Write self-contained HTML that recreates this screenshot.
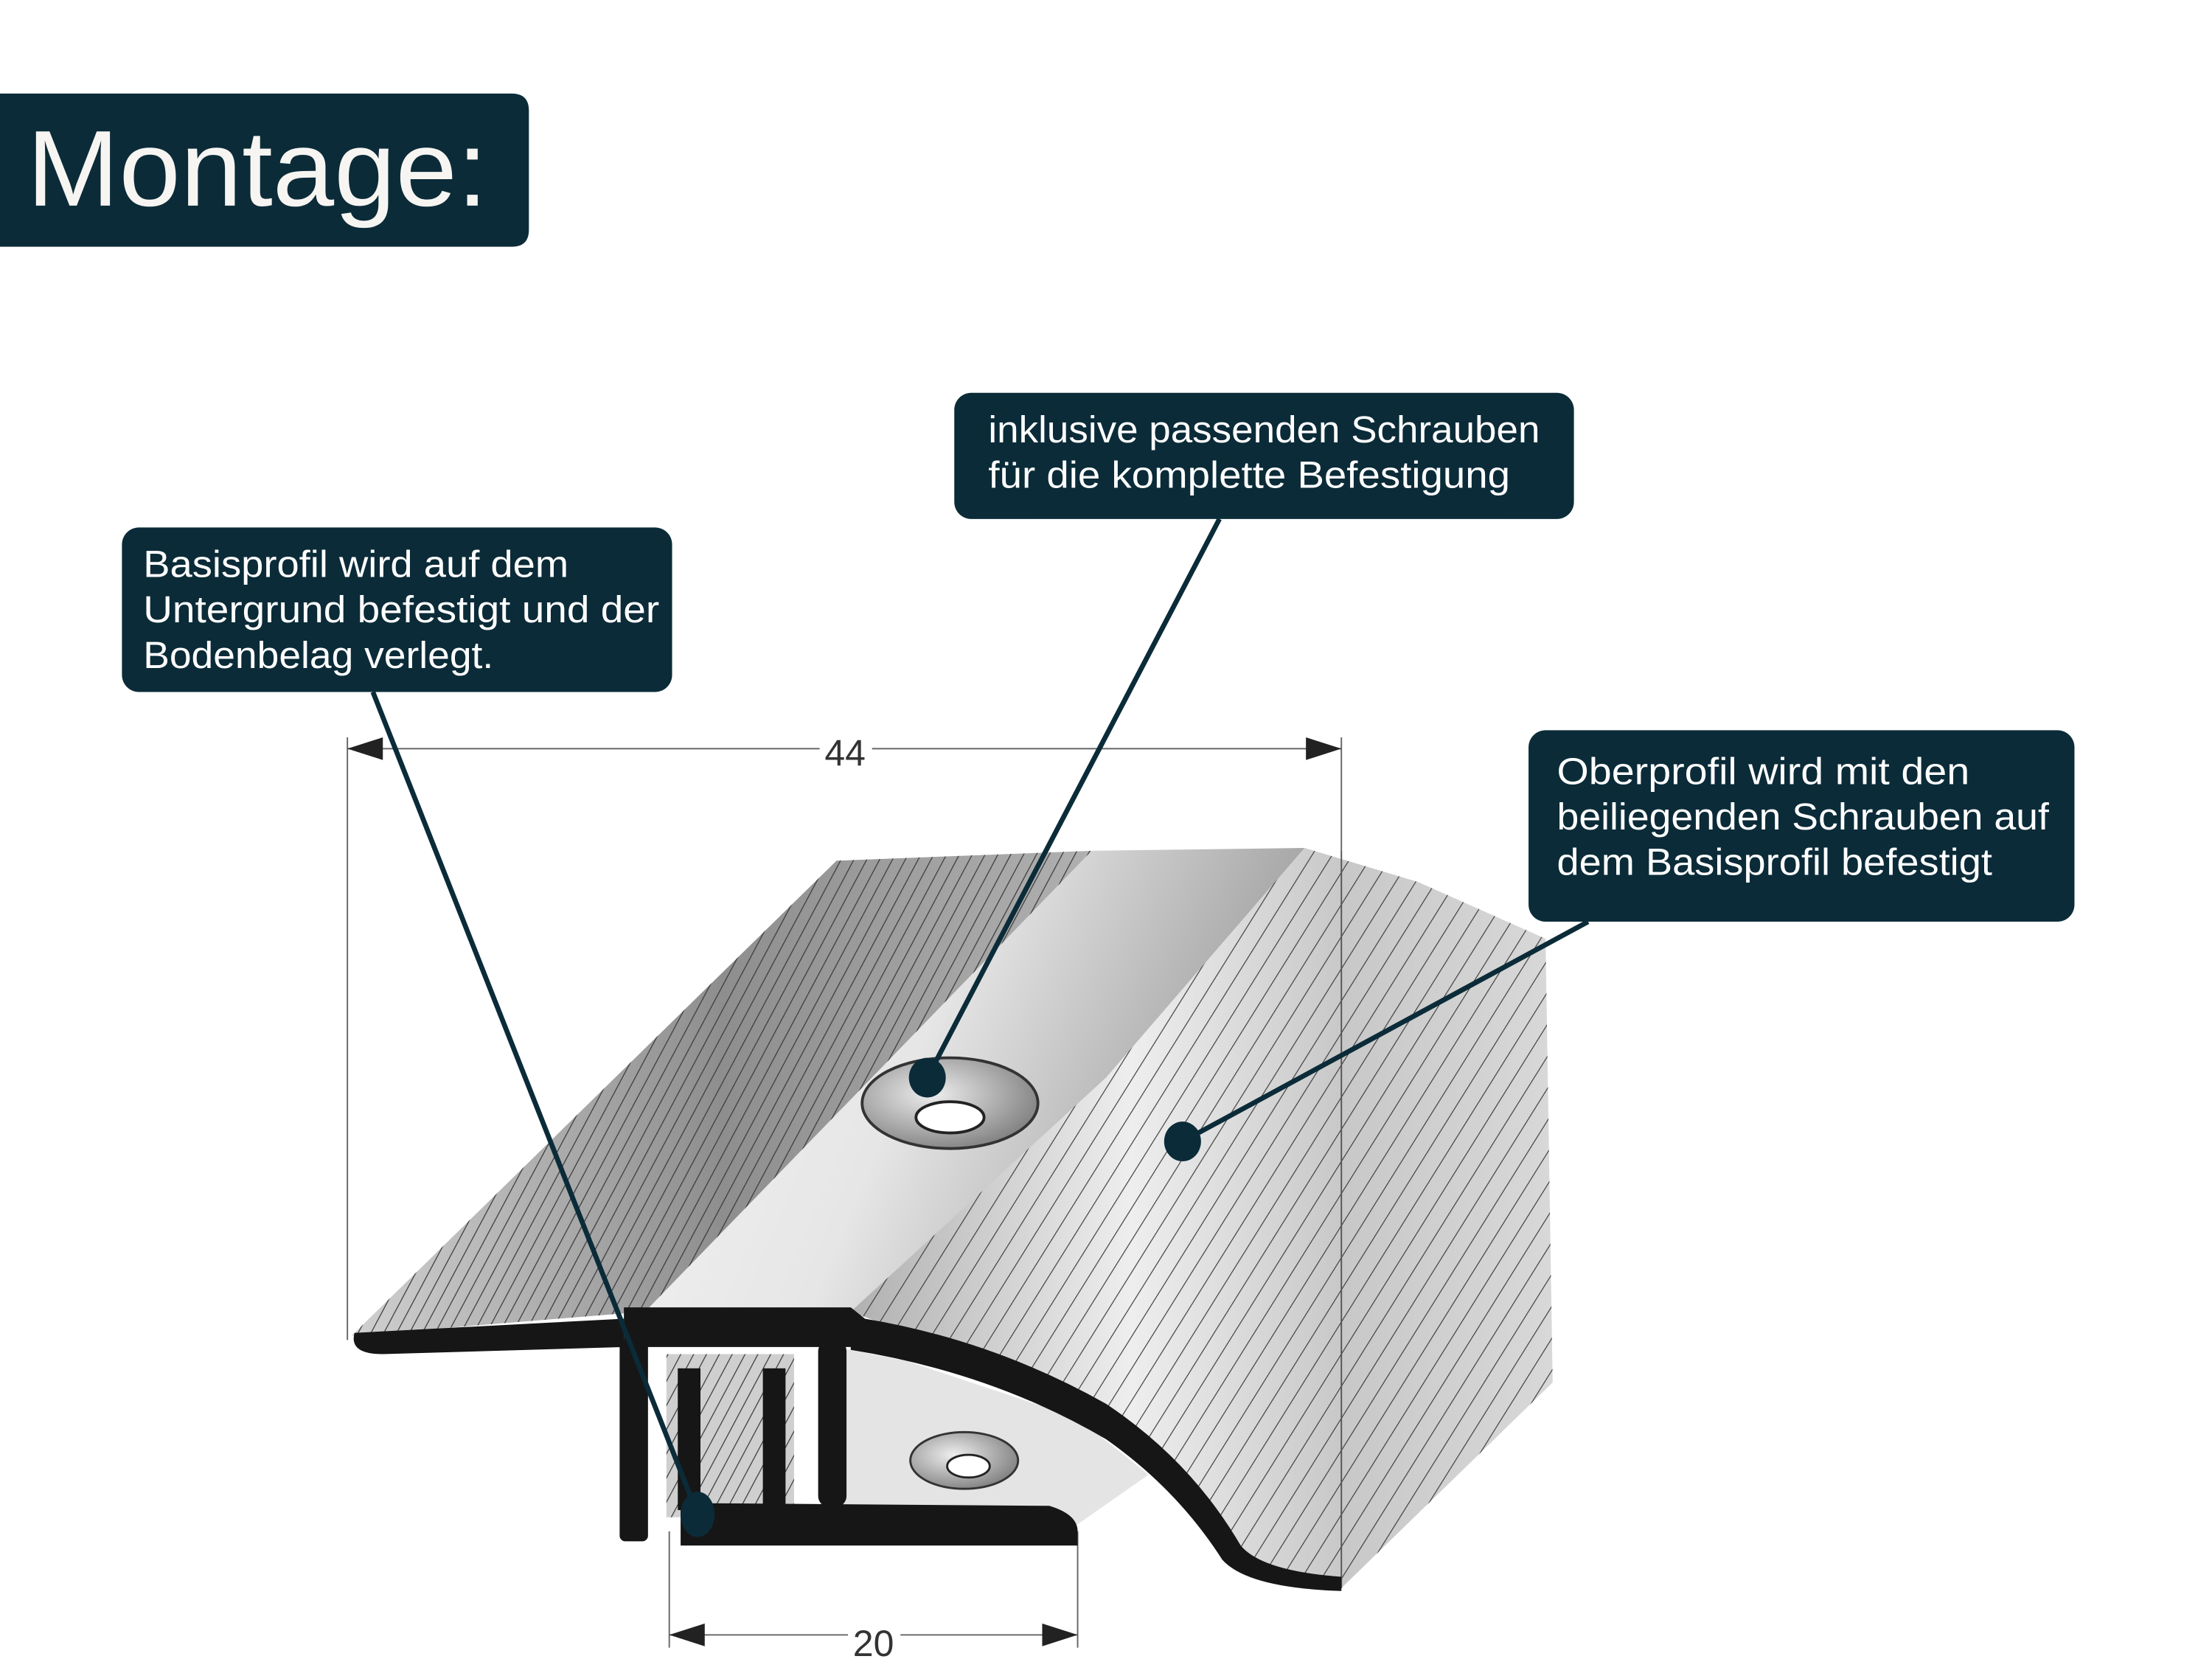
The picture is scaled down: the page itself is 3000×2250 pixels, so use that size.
<!DOCTYPE html>
<html><head><meta charset="utf-8"><style>
html,body{margin:0;padding:0;background:#fff;}
svg{display:block;}
text{font-family:"Liberation Sans",sans-serif;}
</style></head><body>
<svg width="3000" height="2250" viewBox="0 0 1560 1170" xmlns="http://www.w3.org/2000/svg">
<defs>
<linearGradient id="gL" x1="0" y1="0" x2="1" y2="0">
<stop offset="0" stop-color="#d0d0d0"/><stop offset="0.5" stop-color="#8e8e8e"/><stop offset="1" stop-color="#b0b0b0"/>
</linearGradient>
<linearGradient id="gM" x1="0" y1="0" x2="1" y2="0.3">
<stop offset="0" stop-color="#f4f4f4"/><stop offset="0.5" stop-color="#e6e6e6"/><stop offset="1" stop-color="#9c9c9c"/>
</linearGradient>
<linearGradient id="gR" x1="0" y1="0" x2="1" y2="0">
<stop offset="0" stop-color="#b0b0b0"/><stop offset="0.4" stop-color="#eeeeee"/><stop offset="0.7" stop-color="#c8c8c8"/><stop offset="1" stop-color="#d8d8d8"/>
</linearGradient>
<pattern id="hatch" patternUnits="userSpaceOnUse" width="8" height="20" patternTransform="rotate(28)">
<line x1="0" y1="0" x2="0" y2="20" stroke="#3a3a3a" stroke-width="1.3"/>
</pattern>
<pattern id="hatch2" patternUnits="userSpaceOnUse" width="12" height="20" patternTransform="rotate(32)">
<line x1="0" y1="0" x2="0" y2="20" stroke="#3a3a3a" stroke-width="1.2"/>
</pattern>
<radialGradient id="gH" cx="0.4" cy="0.4" r="0.7">
<stop offset="0" stop-color="#eee"/><stop offset="1" stop-color="#777"/>
</radialGradient>
</defs>

<path d="M0,66 H361 Q373,66 373,78 V162 Q373,174 361,174 H0 Z" fill="#0b2b38"/>
<text x="19" y="145" font-size="76" fill="#f7f5f2" textLength="325" lengthAdjust="spacingAndGlyphs">Montage:</text>

<g stroke="#666" stroke-width="1" fill="none">
<line x1="245" y1="520" x2="245" y2="945"/>
<line x1="245" y1="528" x2="578" y2="528"/>
<line x1="615" y1="528" x2="946" y2="528"/>
<line x1="946" y1="520" x2="946" y2="600"/>
<line x1="472" y1="1080" x2="472" y2="1162"/>
<line x1="760" y1="1080" x2="760" y2="1162"/>
<line x1="472" y1="1153" x2="598" y2="1153"/>
<line x1="635" y1="1153" x2="760" y2="1153"/>
</g>
<g fill="#222">
<polygon points="245,528 270,520 270,536"/>
<polygon points="946,528 921,520 921,536"/>
<polygon points="472,1153 497,1145 497,1161"/>
<polygon points="760,1153 735,1145 735,1161"/>
</g>
<text x="596" y="540" font-size="26" fill="#333" text-anchor="middle">44</text>
<text x="616" y="1168" font-size="26" fill="#333" text-anchor="middle">20</text>

<polygon points="920,598 1000,622 1090,662 1095,975 946,1120 880,1100 850,1060 820,1030 760,990 700,960 640,940 600,925" fill="url(#gR)"/>
<polygon points="920,598 1000,622 1090,662 1095,975 946,1120 880,1100 850,1060 820,1030 760,990 700,960 640,940 600,925" fill="url(#hatch2)"/>
<line x1="946" y1="600" x2="946" y2="1120" stroke="#555" stroke-width="1"/>
<polygon points="248,942 590,607 770,600 455,925" fill="url(#gL)"/>
<polygon points="248,942 590,607 770,600 455,925" fill="url(#hatch)"/>
<polygon points="455,925 770,600 920,598 780,760 600,925" fill="url(#gM)"/>
<polygon points="590,950 640,960 760,1000 810,1040 760,1075 590,1075" fill="#e4e4e4"/>
<polygon points="470,955 560,955 560,1070 470,1070" fill="#cfcfcf"/>
<polygon points="470,955 560,955 560,1070 470,1070" fill="url(#hatch)"/>

<ellipse cx="670" cy="778" rx="62" ry="32" fill="url(#gH)" stroke="#333" stroke-width="2"/>
<ellipse cx="670" cy="788" rx="24" ry="11" fill="#fff" stroke="#222" stroke-width="2"/>
<ellipse cx="680" cy="1030" rx="38" ry="20" fill="url(#gH)" stroke="#333" stroke-width="1.5"/>
<ellipse cx="683" cy="1034" rx="15" ry="8" fill="#fff" stroke="#222" stroke-width="1.5"/>

<g fill="#161616">
<path d="M250,940 L440,930 L440,950 L270,955 Q246,955 250,940 Z"/>
<path d="M440,922 L600,922 L610,930 Q700,945 780,990 Q840,1030 875,1090 Q890,1108 946,1112 L946,1122 Q880,1120 862,1100 Q830,1050 780,1015 Q700,968 600,952 L600,950 L440,950 Z"/>
<rect x="437" y="945" width="20" height="142" rx="4"/>
<rect x="577" y="945" width="20" height="118" rx="8"/>
<rect x="478" y="965" width="16" height="100"/>
<rect x="538" y="965" width="16" height="100"/>
<path d="M480,1060 L740,1062 Q760,1068 760,1080 L760,1090 L480,1090 Z"/>
</g>

<g stroke="#0b2b38" stroke-width="3.5" fill="none">
<line x1="263" y1="488" x2="492" y2="1068"/>
<line x1="860" y1="366" x2="654" y2="760"/>
<line x1="1120" y1="650" x2="834" y2="805"/>
</g>
<g fill="#0b2b38">
<ellipse cx="492" cy="1068" rx="12" ry="16"/>
<ellipse cx="654" cy="760" rx="13" ry="14"/>
<ellipse cx="834" cy="805" rx="13" ry="14"/>
</g>

<rect x="86" y="372" width="388" height="116" rx="12" fill="#0b2b38"/>
<g font-size="26.5" fill="#fff">
<text x="101" y="407" textLength="300" lengthAdjust="spacingAndGlyphs">Basisprofil wird auf dem</text>
<text x="101" y="439" textLength="364" lengthAdjust="spacingAndGlyphs">Untergrund befestigt und der</text>
<text x="101" y="471" textLength="247" lengthAdjust="spacingAndGlyphs">Bodenbelag verlegt.</text>
</g>
<rect x="673" y="277" width="437" height="89" rx="12" fill="#0b2b38"/>
<g font-size="26.5" fill="#fff">
<text x="697" y="312" textLength="389" lengthAdjust="spacingAndGlyphs">inklusive passenden Schrauben</text>
<text x="697" y="344" textLength="368" lengthAdjust="spacingAndGlyphs">für die komplette Befestigung</text>
</g>
<rect x="1078" y="515" width="385" height="135" rx="12" fill="#0b2b38"/>
<g font-size="26.5" fill="#fff">
<text x="1098" y="553" textLength="291" lengthAdjust="spacingAndGlyphs">Oberprofil wird mit den</text>
<text x="1098" y="585" textLength="347" lengthAdjust="spacingAndGlyphs">beiliegenden Schrauben auf</text>
<text x="1098" y="617" textLength="307" lengthAdjust="spacingAndGlyphs">dem Basisprofil befestigt</text>
</g>
</svg>
</body></html>
